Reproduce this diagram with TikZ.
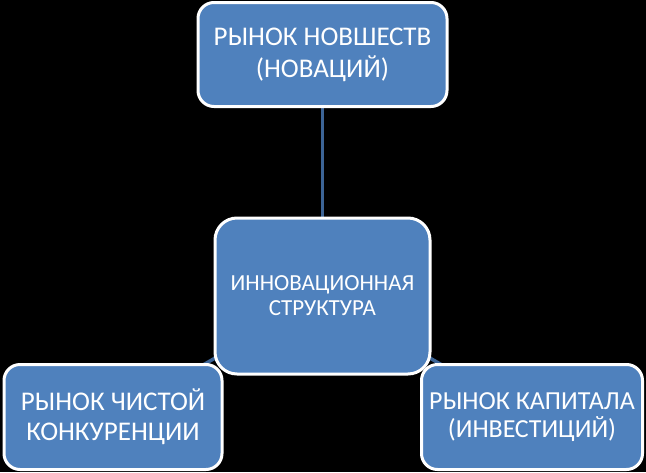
\documentclass[tikz,border=0pt]{standalone}
\usepackage{fontspec}
\setmainfont{Carlito}
\definecolor{boxblue}{RGB}{79,129,189}
\definecolor{lineblue}{RGB}{60,100,150}
\begin{document}
\begin{tikzpicture}[x=1pt,y=-1pt,
  box/.style={draw=white,line width=3pt,fill=boxblue,rounded corners=16pt,
    text=white,align=center,inner sep=0pt,anchor=center},
  conn/.style={draw=lineblue,line width=3.5pt}]
\fill[black] (0,0) rectangle (646,472);
\useasboundingbox (0,0) rectangle (646,472);
\coordinate (ct) at (322.5,54.5);
\coordinate (cc) at (322.5,296);
\coordinate (cl) at (113,417);
\coordinate (cr) at (532,417);
\draw[conn] (ct) -- (cc);
\draw[conn] (cc) -- (cl);
\draw[conn] (cc) -- (cr);
\node[box,minimum width=249pt,minimum height=104pt,font=\fontsize{27}{32}\selectfont] (top) at (ct) {РЫНОК НОВШЕСТВ\\(НОВАЦИЙ)};
\node[box,minimum width=215pt,minimum height=156pt,rounded corners=22pt,font=\fontsize{23}{25}\selectfont] (mid) at (cc) {ИННОВАЦИОННАЯ\\СТРУКТУРА};
\node[box,minimum width=218pt,minimum height=105pt,font=\fontsize{27}{30}\selectfont] (left) at (cl) {РЫНОК ЧИСТОЙ\\КОНКУРЕНЦИИ};
\node[box,minimum width=221pt,minimum height=105pt,font=\fontsize{26}{28}\selectfont] (right) at (cr) {РЫНОК КАПИТАЛА\\(ИНВЕСТИЦИЙ)};
\end{tikzpicture}
\end{document}
